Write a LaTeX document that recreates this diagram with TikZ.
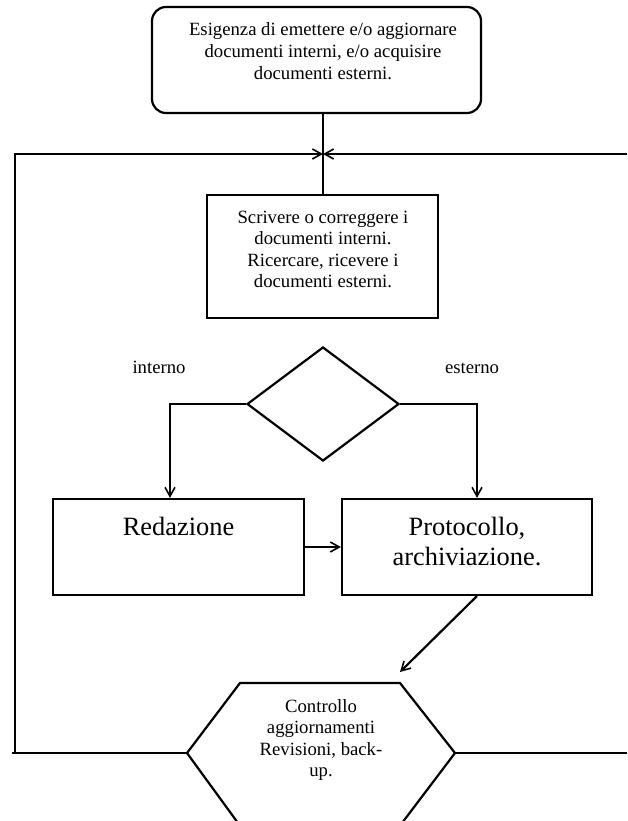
\documentclass[tikz,border=0pt]{standalone}
\usepackage{fontspec}
\setmainfont{Liberation Serif}
\usetikzlibrary{shapes.geometric,arrows.meta}
\newcommand\mylines[1]{\vtop{\halign{\hfil##\hfil\cr#1\crcr}}}
\begin{document}
\begin{tikzpicture}[x=1pt,y=-1pt,
  ln/.style={line width=2.2pt},
  arr/.style={ln,-{Straight Barb[length=9pt,width=10pt,line width=1.6pt]}},
  small/.style={font=\fontsize{18.7}{21.6}\selectfont,inner sep=0pt,anchor=base},
  big/.style={font=\fontsize{26.4}{30}\selectfont,inner sep=0pt,anchor=base}]
\useasboundingbox (0,0) rectangle (627,821);

% boxes
\node[draw,ln,rounded corners=14pt,minimum width=329pt,minimum height=106pt,inner sep=0pt] (top) at (316.5,60) {};
\node[draw,ln,minimum width=231pt,minimum height=123pt,inner sep=0pt] (mid) at (322.5,256.5) {};
\node[draw,ln,diamond,minimum width=152pt,minimum height=114pt,inner sep=0pt] (dia) at (323,404) {};
\node[draw,ln,minimum width=251pt,minimum height=96pt,inner sep=0pt] (red) at (178.5,547) {};
\node[draw,ln,minimum width=250pt,minimum height=96pt,inner sep=0pt] (pro) at (467,547) {};

% hexagon
\coordinate (hTL) at (240,683);
\coordinate (hTR) at (400,683);
\coordinate (hR) at (455,753);
\coordinate (hBR) at (402,823);
\coordinate (hBL) at (238,823);
\coordinate (hL) at (187,753);
\draw[ln,line join=miter] (hL) -- (hTL) -- (hTR) -- (hR) -- (hBR) -- (hBL) -- cycle;

% texts
\node[small] (ttop) at (323,36) {\mylines{Esigenza di emettere e/o aggiornare\cr documenti interni, e/o acquisire\cr documenti esterni.}};
\node[small] (tmid) at (323,223) {\mylines{Scrivere o correggere i\cr documenti interni.\cr Ricercare, ricevere i\cr documenti esterni.}};
\node[small] (thex) at (321,712) {\mylines{Controllo\cr aggiornamenti\cr Revisioni, back-\cr up.}};
\node[small] (tint) at (159,373) {interno};
\node[small] (test) at (472,373) {esterno};
\node[big] (tred) at (178.5,535) {Redazione};
\node[big] (tpro) at (467,535) {\mylines{Protocollo,\cr archiviazione.}};

% connectors
\coordinate (J) at (323,154);
\coordinate (LT) at (15,154);
\coordinate (LB) at (15,753);
\coordinate (LB0) at (12,753);
\coordinate (RT) at (627,154);
\coordinate (RB) at (627,753);
\coordinate (bl) at (170,404);
\coordinate (br) at (477,404);
\coordinate (dstart) at (477,596);
\coordinate (dend) at (400,672);

\draw[ln] (top.south -| J) -- (mid.north -| J);
\draw[arr] (LB) -- (LT) -- (J);
\draw[arr] (RT) -- (J);
\draw[ln] (LB0) -- (hL);
\draw[ln] (hR) -- (RB);
\draw[arr] (dia.west) -- (bl) -- (bl |- red.north);
\draw[arr] (dia.east) -- (br) -- (br |- pro.north);
\draw[arr] (red.east) -- (pro.west);
\draw[arr] (dstart) -- (dend);
\end{tikzpicture}
\end{document}
